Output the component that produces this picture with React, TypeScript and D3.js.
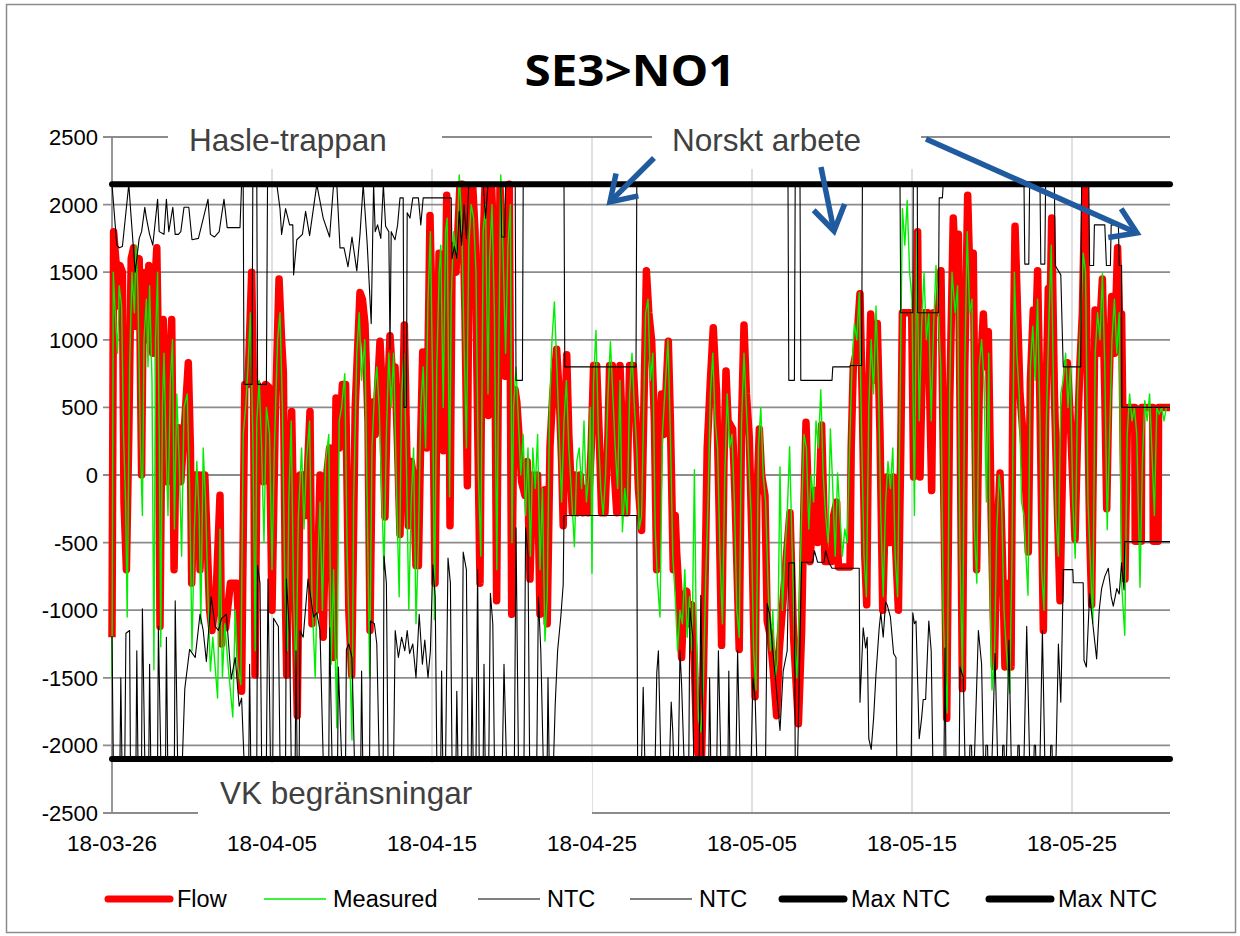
import React from "react";
import * as d3 from "d3";

type P = [number, number];

// x in days after 2018-03-26 00:00, y in MW
const xTickDays = [0, 10, 20, 30, 40, 50, 60];
const xTickLabels = ["18-03-26", "18-04-05", "18-04-15", "18-04-25", "18-05-05", "18-05-15", "18-05-25"];
const yTicks = [-2500, -2000, -1500, -1000, -500, 0, 500, 1000, 1500, 2000, 2500];
const dayDomain: P = [0, 66.125];

const flow: P[] = [
  [0, -1200], [0.1, 1800], [0.3, 1500], [0.4, 1250], [0.5, 1550], [0.65, 1500], [0.75, -200], [0.9, -700], [1.05, 300], [1.2, 1600], [1.35, 1680], [1.45, 1100], [1.55, 1550], [1.7, 1600], [1.85, 0], [1.95, 1300], [2.1, 1500], [2.2, 1000], [2.3, 1550], [2.45, 1150], [2.55, 900], [2.65, 1350], [2.8, 1680], [2.9, 900], [3.0, -1120], [3.1, 200], [3.2, 1150], [3.3, 800], [3.42, -50], [3.55, 400], [3.73, 1150], [3.88, -700], [4.0, 200], [4.15, 350], [4.3, -50], [4.5, 300], [4.77, 830], [4.9, 200], [4.98, -800], [5.1, -300], [5.2, 0], [5.35, -100], [5.45, 0], [5.5, -700], [5.65, 0], [5.8, 0], [5.95, -500], [6.1, -1000], [6.25, -1150], [6.5, -900], [6.75, -150], [6.85, -1250], [6.96, -1000], [7.1, -1130], [7.4, -800], [7.8, -800], [7.95, -1200], [8.1, -1600], [8.3, 670], [8.5, 670], [8.73, 1500], [8.85, 600], [8.94, -1480], [9.1, 670], [9.3, 600], [9.46, -50], [9.6, 670], [9.8, 650], [10.0, -1000], [10.2, 400], [10.44, 1450], [10.6, 1000], [10.71, 760], [10.85, -1000], [10.92, -1480], [11.1, 0], [11.23, 470], [11.4, -700], [11.58, -1780], [11.75, 0], [11.96, 0], [12.1, -300], [12.375, 470], [12.5, -1100], [12.6, -500], [12.8, -1000], [13.0, 0], [13.2, -1200], [13.42, 0], [13.6, 200], [13.83, -1350], [14.0, 570], [14.2, 200], [14.4, 670], [14.6, 670], [14.8, -1000], [14.98, -1480], [15.2, 500], [15.5, 1350], [15.65, 1300], [15.81, 1120], [16.0, 400], [16.125, -1150], [16.3, 540], [16.45, 300],
  [16.75, 990], [16.9, 600], [17.06, -310], [17.2, 500], [17.375, 1030], [17.55, 700], [17.69, 800], [17.85, 200], [18.0, -440], [18.15, 400], [18.27, 1110], [18.4, 300], [18.52, -375], [18.7, 100], [18.83, 0], [19.0, -670], [19.15, -670], [19.3, 300], [19.42, 910], [19.55, 600], [19.67, 200], [19.875, 1920], [20.0, 1200], [20.19, -800], [20.3, 500], [20.44, 1640], [20.6, 1000], [20.71, 180], [20.92, 2070], [21.05, 1200], [21.125, -375], [21.25, 1500], [21.375, 1700], [21.5, 1500], [21.75, 2150], [21.9, 2150], [22.06, 1200], [22.21, -80], [22.3, 1500], [22.375, 2130], [22.55, 2130], [22.69, 1800], [22.85, 400], [23.0, -800], [23.15, 1500], [23.31, 2130], [23.45, 1800], [23.52, 440], [23.65, 1800], [23.73, 2130], [23.9, 1500], [24.04, -930], [24.15, 800], [24.25, 2130], [24.4, 1800], [24.56, 730], [24.7, 1500], [24.83, 2150], [24.98, -1030], [25.1, 300], [25.19, 630], [25.3, 540], [25.45, 270], [25.6, -50], [25.81, -150], [25.95, 100], [26.125, -770], [26.3, 0], [26.44, -150], [26.6, 0], [26.75, -1030], [26.9, -300], [27.06, -110], [27.2, -1100], [27.375, 210], [27.55, 600], [27.79, 930], [27.95, 600], [28.1, 100], [28.2, -375], [28.3, 300], [28.42, 890], [28.55, 300], [28.77, -280], [28.9, 0], [29.05, -280], [29.25, 0], [29.45, -280], [29.6, -100], [29.77, -280], [29.95, 200], [30.1, 810], [30.29, 810], [30.45, 300], [30.6, -280], [30.81, -280], [31.0, 300], [31.1, 810], [31.27, 810], [31.4, 0], [31.55, -280], [31.75, 810], [31.9, 300], [32.0, -280], [32.17, -280], [32.35, 810], [32.58, 810], [32.75, 400], [32.9, -100], [33.1, -410],
  [33.4, 1510], [33.55, 1200], [33.73, 990], [33.9, 400], [34.04, -700], [34.2, 200], [34.35, 600], [34.5, 300], [34.77, 990], [34.9, 400], [35.08, -700], [35.2, -300], [35.29, -570], [35.45, -900], [35.6, -1350], [35.75, -900], [35.92, -860], [36.05, -1100], [36.23, -960], [36.4, -1400], [36.55, -2000], [36.65, -2080], [36.85, -2080], [36.96, -1500], [37.05, -900], [37.2, 200], [37.4, 700], [37.58, 1090], [37.7, 800], [37.79, 600], [37.95, -300], [38.1, -1260], [38.25, 100], [38.375, 770], [38.5, 400], [38.79, 340], [38.95, -200], [39.2, -1290], [39.35, 400], [39.5, 1110], [39.65, 600], [39.83, 280], [40.0, -500], [40.19, -1640], [40.3, -200], [40.46, 340], [40.6, 0], [40.81, -150], [40.95, -1080], [41.125, -1180], [41.3, -1400], [41.54, -1780], [41.7, -1300], [41.96, -900], [42.15, -600], [42.375, -280], [42.6, -1200], [42.9, -1840], [43.1, -1160], [43.25, -200], [43.375, 390], [43.5, -100], [43.625, -640], [43.8, -300], [43.94, -115], [44.1, -500], [44.35, 370], [44.5, -300], [44.56, -640], [44.98, -640], [45.1, -300], [45.29, -200], [45.4, -680], [46.125, -680], [46.2, 200], [46.33, 800], [46.5, 900], [46.75, 1340], [46.9, 500], [47.05, -600], [47.17, -960], [47.3, 600], [47.42, 1190], [47.6, 700], [47.83, 1120], [48.0, 300], [48.17, -1000], [48.3, -400], [48.42, -15], [48.6, -500], [48.83, -15], [49.0, -600], [49.15, -1000], [49.3, 200], [49.4, 1200], [49.98, 1200],
  [50.1, -15], [50.35, 1800], [50.5, -15], [50.71, 1200], [51.0, 1200], [51.23, -115], [51.35, 1200], [51.65, 1200], [51.81, 1510], [51.95, 200], [52.17, -1800], [52.35, 500], [52.58, 1900], [52.75, 1400], [52.9, 1780], [53.0, 500], [53.15, -1580], [53.3, 800], [53.48, 2070], [53.65, 1300], [53.83, 1640], [53.95, 200], [54.04, -700], [54.2, 600], [54.46, 1190], [54.6, 800], [54.77, 1060], [54.95, -300], [55.15, -1420], [55.3, -500], [55.5, 15], [55.65, -600], [55.81, -1420], [56.0, -800], [56.19, -1420], [56.3, 600], [56.44, 1840], [56.6, 1200], [56.75, 600], [57.0, 200], [57.27, -570], [57.4, 700], [57.58, 1220], [57.7, 900], [57.85, 1510], [58.0, 500], [58.21, -1150], [58.35, 400], [58.52, 1380], [58.6, 1000], [58.73, 1900], [58.9, 600], [59.1, -300], [59.25, -930], [59.45, 300], [59.71, 830], [59.9, 400], [60.19, -475], [60.35, 300], [60.5, 830], [60.65, 1200], [60.81, 2130], [60.95, 800], [61.1, -400], [61.23, -960], [61.35, 300], [61.44, 1220], [61.65, 900], [61.9, 1450], [62.05, 600], [62.17, -250], [62.3, 600], [62.48, 1320], [62.65, 900], [62.85, 1680], [63.0, 1000], [63.1, 1190], [63.2, 200], [63.31, -770], [63.45, 300], [63.52, 500], [63.92, 500], [63.95, -490], [64.33, -490], [64.36, 500], [65.05, 500], [65.08, -490], [65.38, -490], [65.41, 500], [66.125, 500],
];

const measured: P[] = [
  [0, -1500], [0.08, 1500], [0.2, 1200], [0.35, 900], [0.45, 1400], [0.6, 1250], [0.72, 300], [0.85, -200], [0.95, -1050], [1.1, 800], [1.25, 1500], [1.4, 1200], [1.5, 1700], [1.62, 1350], [1.78, 200], [1.9, -300], [2.0, 1000], [2.15, 1300], [2.25, 800], [2.35, 1400], [2.5, 700], [2.62, -1440], [2.72, 1000], [2.85, 1500], [2.95, 300], [3.05, -1270], [3.15, 500], [3.25, 900], [3.4, 100], [3.5, -300], [3.65, 700], [3.78, 1000], [3.9, -400], [4.05, 600], [4.2, 100], [4.35, -600], [4.5, 500], [4.7, 600], [4.85, -100], [5.0, -1300], [5.15, -400], [5.3, 100], [5.45, -300], [5.55, -1100], [5.7, 200], [5.85, -200], [6.0, -900], [6.15, -1450], [6.3, -1200], [6.6, -1650], [6.75, -400], [6.9, -1500], [7.05, -1100], [7.25, -1400], [7.55, -1790], [7.7, -1000], [7.85, -1400], [8.05, -1550], [8.2, 300], [8.35, 500], [8.5, 800], [8.65, 1200], [8.8, 300], [8.95, -1300], [9.05, 400], [9.2, 700], [9.35, 200], [9.5, -500], [9.65, 500], [9.85, 300], [10.0, -700], [10.15, 200], [10.35, 1000], [10.5, 1200], [10.65, 500], [10.8, -800], [10.95, -1300], [11.05, -200], [11.2, 400], [11.35, -900], [11.5, -1500], [11.65, -300], [11.85, 200], [12.0, -400], [12.15, 100], [12.35, 400], [12.5, -900], [12.7, -1500], [12.85, -700], [13.0, -200], [13.15, -1000], [13.35, 100], [13.55, 300], [13.7, -1400], [13.85, -700], [14.05, -1870], [14.2, 400], [14.35, 500], [14.55, 750], [14.7, -600], [14.85, -1300], [15.0, -1960], [15.1, -200], [15.3, 900], [15.45, 1200], [15.6, 700], [15.8, 1000], [15.95, -200], [16.1, -1490], [16.25, 200], [16.4, 600],
  [16.55, 800], [16.7, 500], [16.85, -100], [17.0, -700], [17.15, 300], [17.3, 900], [17.45, 500], [17.6, 900], [17.8, -200], [17.95, -900], [18.1, 600], [18.25, 900], [18.4, 100], [18.55, -1000], [18.7, -200], [18.85, 200], [19.0, -1100], [19.15, -500], [19.3, 500], [19.45, 800], [19.6, 200], [19.75, 1300], [19.9, 1800], [20.05, 600], [20.15, -1070], [20.3, 800], [20.45, 1500], [20.55, 1700], [20.7, 500], [20.85, 1800], [20.95, 1900], [21.1, -160], [21.2, 1300], [21.35, 1800], [21.55, 1600], [21.7, 2220], [21.85, 1900], [22.0, 1000], [22.15, 200], [22.3, 1700], [22.45, 2000], [22.6, 1900], [22.75, 1500], [22.9, 0], [23.05, -600], [23.2, 1800], [23.35, 2000], [23.5, 600], [23.6, 1600], [23.75, 2000], [23.9, 1200], [24.05, -700], [24.2, 1200], [24.3, 2220], [24.45, 1600], [24.6, 900], [24.75, 1700], [24.9, 2000], [25.0, -500], [25.1, 500], [25.25, 800], [25.4, 400], [25.55, 0], [25.7, 300], [25.85, -300], [26.0, 200], [26.15, -600], [26.3, 200], [26.45, -100], [26.6, 300], [26.75, -700], [26.9, -100], [27.06, -1230], [27.2, -900], [27.35, 500], [27.5, 1000], [27.65, 1280], [27.8, 800], [27.95, 300], [28.1, -200], [28.25, 400], [28.4, 700], [28.55, 200], [28.7, -100], [28.9, -530], [29.05, 100], [29.2, 200], [29.35, -100], [29.5, 400], [29.65, -200], [29.8, 0], [29.9, 500], [30.0, -727], [30.1, 700], [30.25, 1070], [30.4, 300], [30.55, -100], [30.7, -300], [30.85, 0], [31.0, 600], [31.15, 986], [31.3, 600], [31.45, 200], [31.6, -100], [31.75, 700], [31.9, -420], [32.05, -100], [32.2, -300], [32.35, 600], [32.5, 900], [32.65, 500], [32.8, 200], [32.95, -400], [33.1, -300], [33.25, 600], [33.35, 1200],
  [33.5, 1300], [33.65, 700], [33.8, 900], [33.95, -400], [34.1, -800], [34.25, -1050], [34.4, 300], [34.55, 600], [34.75, 1000], [34.9, 300], [35.05, -600], [35.2, -900], [35.35, -1300], [35.5, -1000], [35.65, -1100], [35.8, -700], [35.95, -1200], [36.1, -900], [36.25, -1300], [36.4, 40], [36.5, -1000], [36.65, -1800], [36.8, -1900], [36.95, -1600], [37.1, -800], [37.25, -200], [37.4, 600], [37.55, 900], [37.7, 400], [37.85, 200], [38.0, -600], [38.15, -1100], [38.3, 0], [38.45, 600], [38.6, 200], [38.75, 300], [38.9, -200], [39.05, -1000], [39.2, -1200], [39.35, 400], [39.5, 900], [39.65, 500], [39.8, 100], [39.95, -300], [40.1, -1300], [40.25, -1590], [40.4, 200], [40.55, 500], [40.7, 0], [40.85, -200], [41.0, -800], [41.15, -1300], [41.3, -1000], [41.45, -1500], [41.6, -1370], [41.75, 60], [41.9, -1000], [42.05, -600], [42.2, -300], [42.35, 210], [42.5, -500], [42.65, -1200], [42.8, -1500], [42.95, -1000], [43.1, -300], [43.25, 300], [43.4, 200], [43.55, -400], [43.7, 0], [43.85, -200], [44.0, 400], [44.15, 200], [44.3, 630], [44.45, 0], [44.6, -300], [44.75, -500], [44.9, 340], [45.05, -100], [45.2, -600], [45.35, 15], [45.5, -300], [45.65, -600], [45.8, -400], [45.95, -500], [46.1, 200], [46.25, 800], [46.4, 1120], [46.55, 1000], [46.7, 1350], [46.85, 300], [47.0, -600], [47.15, -900], [47.3, 500], [47.45, 1000], [47.6, 600], [47.75, 1250], [47.9, 700], [48.05, -300], [48.2, -900], [48.35, -200], [48.5, 100], [48.65, -100], [48.8, 200], [48.95, -600], [49.1, -900], [49.25, 500], [49.4, 1970], [49.55, 1700], [49.7, 2030], [49.85, 1500], [50.0, 1300],
  [50.15, -300], [50.3, 1800], [50.45, 400], [50.6, 1100], [50.75, 1500], [50.9, 1000], [51.05, 1200], [51.2, 400], [51.35, 1100], [51.5, 1550], [51.65, 1200], [51.8, 800], [51.95, -1000], [52.05, -1400], [52.2, -1760], [52.35, 600], [52.5, 1500], [52.7, 1200], [52.85, 1400], [53.0, -600], [53.15, -1500], [53.3, 800], [53.45, 1800], [53.6, 1200], [53.75, 1300], [53.9, -400], [54.05, -800], [54.2, 800], [54.35, 1000], [54.5, 700], [54.65, -200], [54.8, 900], [54.9, -1000], [55.0, -1590], [55.15, -1350], [55.3, -400], [55.45, 0], [55.6, -200], [55.75, -1000], [55.9, -1300], [56.1, -1615], [56.25, -600], [56.4, 1500], [56.55, 900], [56.7, 600], [56.85, -200], [57.0, -300], [57.25, -890], [57.4, 800], [57.55, 1100], [57.7, 700], [57.85, 1300], [58.0, 400], [58.1, -700], [58.25, -1000], [58.4, 400], [58.55, 1100], [58.7, 1700], [58.85, 600], [59.0, -300], [59.15, -600], [59.3, 600], [59.45, 700], [59.6, 900], [59.75, 500], [59.9, 800], [60.05, -200], [60.2, -615], [60.35, 600], [60.5, 1000], [60.7, 1640], [60.85, 1500], [61.0, -200], [61.3, -1095], [61.45, 900], [61.6, 1200], [61.75, 1000], [61.9, 1490], [62.05, 800], [62.2, -405], [62.35, 300], [62.5, 1000], [62.65, 1300], [62.8, 900], [62.95, 1200], [63.1, -800], [63.3, -1185], [63.45, 300], [63.6, 600], [63.75, 400], [63.9, 500], [64.05, 300], [64.25, -830], [64.4, 100], [64.55, 550], [64.7, 400], [64.85, 600], [65.0, 160], [65.15, -300], [65.3, 500], [65.45, 450], [65.6, 500], [65.75, 400], [65.9, 500], [66.125, 500],
];

const ntcUpper: P[] = [
  [0, 2150], [0.3, 1700], [0.45, 1680], [0.65, 1690], [1.05, 2150], [1.2, 1900], [1.45, 1500], [1.7, 1750], [1.85, 1800], [2.05, 1980], [2.15, 1900], [2.35, 1780], [2.55, 1700], [2.85, 2040], [2.95, 1800], [3.25, 1780], [3.4, 2040], [3.55, 1800], [3.8, 1980], [3.95, 1780], [4.15, 1780], [4.3, 1800], [4.5, 1980], [4.8, 1980], [5.0, 1740], [5.4, 1750], [6.0, 2040], [6.15, 1780], [6.4, 1760], [6.7, 1800], [7.0, 2040], [7.2, 1830], [8.0, 1830], [8.1, 2150], [8.2, 2150], [8.25, 670], [8.75, 670], [8.8, 2150], [9.05, 2150], [9.1, 670], [9.65, 670], [9.72, 2150], [10.3, 2150], [10.5, 1970], [10.6, 1780], [10.85, 1970], [11.1, 1850], [11.3, 1850], [11.35, 1480], [11.55, 1740], [11.9, 1780], [12.1, 1950], [12.35, 1770], [12.8, 2150], [13.2, 1900], [13.6, 1760], [13.85, 2150], [14.05, 2150], [14.25, 1680], [14.5, 1680], [14.75, 1540], [15.0, 1760], [15.3, 1510], [15.5, 1780], [15.7, 2150], [15.95, 1710], [16.2, 1120], [16.35, 2150],
  [16.45, 1800], [16.6, 1850], [16.8, 1750], [16.96, 2150], [17.1, 1840], [17.3, 1800], [17.375, 930], [17.45, 1800], [17.69, 1740], [17.85, 1850], [18.0, 2050], [18.2, 2050], [18.25, 500], [18.4, 500], [18.45, 1940], [18.625, 1900], [18.8, 2050], [19.15, 2050], [19.3, 1850], [19.45, 2050], [21.2, 2050], [21.25, 1600], [21.4, 1690], [21.55, 1600], [21.7, 1950], [21.85, 1700], [22.0, 2000], [22.15, 1750], [22.3, 2150], [23.2, 2150], [23.35, 1900], [23.5, 2150], [24.3, 2150], [24.35, 1760], [24.55, 1760], [24.6, 2150], [25.2, 2150], [25.25, 700], [25.65, 700], [25.7, 2150], [28.25, 2150], [28.3, 800], [32.75, 800], [32.8, 2150],
  [42.25, 2150], [42.3, 700], [42.65, 700], [42.7, 2150], [43.0, 2150], [43.05, 700], [45.0, 700], [45.05, 800], [46.1, 800], [46.15, 810], [46.85, 810], [46.9, 2150], [49.25, 2150], [49.3, 1200], [50.05, 1200], [50.08, 2150], [50.33, 2150], [50.36, 1200], [51.65, 1200], [51.7, 2050], [51.9, 2050], [51.95, 2150],
  [57.0, 2150], [57.05, 1560], [57.3, 1560], [57.35, 2150], [58.0, 2150], [58.05, 1560], [58.3, 1560], [58.35, 2150], [58.9, 2150], [58.95, 1550], [59.3, 1480], [59.45, 800], [60.55, 800], [60.6, 2150], [61.05, 2150], [61.1, 1550], [61.35, 1550], [61.4, 1850], [62.05, 1850], [62.15, 1550], [62.4, 1550], [62.45, 1850], [62.9, 1850], [62.95, 1550], [63.1, 1550], [63.12, 500], [66.125, 500],
];

const ntcLower: P[] = [
  [0, -1190], [0.08, -2100], [0.5, -2100], [0.55, -1500], [0.62, -2100], [0.8, -2100], [0.87, -1170], [1.1, -1150], [1.15, -2100], [1.5, -2100], [1.55, -1300], [1.62, -2100], [1.85, -2100], [1.9, -990], [2.05, -2100], [2.3, -2100], [2.35, -1400], [2.42, -2100], [2.85, -2100], [2.9, -1120], [3.05, -2100], [3.35, -2100], [3.4, -1200], [3.48, -2100], [3.9, -2100], [3.95, -930], [4.1, -2100], [4.4, -2100], [4.55, -1580], [4.85, -1290], [5.2, -1350], [5.5, -1030], [5.7, -1150], [5.9, -1380], [6.2, -900], [6.45, -1120], [6.65, -1150], [6.85, -1060], [7.15, -1030], [7.45, -1510], [7.7, -1350], [7.95, -1710], [8.1, -1650], [8.25, -2100], [8.55, -2100], [8.6, -1400], [8.67, -2100], [9.05, -2100], [9.1, -670], [9.25, -800], [9.35, -2100], [9.65, -2100], [9.75, -770], [9.9, -2100], [10.05, -2100], [10.1, -1060], [10.4, -1120], [10.5, -2100], [10.85, -2100], [10.9, -770], [11.1, -1180], [11.2, -2100], [11.45, -2100], [11.5, -1300], [11.57, -2100], [11.7, -2100], [11.75, -1150], [11.95, -1200], [12.25, -770], [12.6, -1050], [12.8, -1020], [13.0, -1150], [13.2, -2100], [13.55, -2100], [13.6, -1130], [13.75, -2100], [14.1, -2100], [14.15, -1420], [14.35, -2100], [14.6, -2100], [14.65, -1290], [14.8, -1250], [15.0, -1350], [15.15, -2100], [15.55, -2100], [15.6, -1450], [15.67, -2100], [16.1, -2100], [16.15, -1080], [16.4, -1100],
  [16.55, -1250], [16.7, -2100], [16.95, -2100], [17.0, -600], [17.15, -800], [17.25, -2100], [17.6, -2100], [17.7, -1150], [17.9, -1350], [18.1, -1200], [18.3, -1300], [18.45, -1150], [18.6, -1320], [18.8, -1250], [19.0, -1500], [19.2, -1030], [19.4, -1400], [19.55, -1220], [19.75, -1500], [19.9, -1300], [20.05, -665], [20.2, -900], [20.3, -2100], [20.55, -2100], [20.6, -1450], [20.67, -2100], [20.85, -2100], [21.0, -615], [21.15, -800], [21.25, -2100], [21.5, -2100], [21.55, -1600], [21.62, -2100], [21.85, -2100], [21.95, -570], [22.15, -700], [22.25, -2100], [22.45, -2100], [22.5, -1500], [22.57, -2100], [22.75, -2100], [22.85, -700], [22.95, -2100], [23.2, -2100], [23.25, -1400], [23.32, -2100], [23.55, -2100], [23.65, -875], [23.8, -1100], [23.9, -2100], [24.4, -2100], [24.5, -1400], [24.65, -2100], [25.15, -2100], [25.25, -390], [25.4, -2100], [25.75, -2100], [25.85, -390], [26.0, -600], [26.1, -2100], [26.55, -2100], [26.65, -900], [26.8, -1300], [26.95, -2100], [27.2, -2100], [27.25, -1500], [27.32, -2100], [27.6, -2100], [27.7, -1700], [27.85, -1300], [28.05, -1050], [28.2, -810], [28.25, -300], [32.8, -300], [32.85, -2100], [33.1, -2100], [33.2, -1570], [33.3, -2100], [33.95, -2100], [34.05, -1460], [34.15, -1300], [34.3, -2100], [34.85, -2100], [34.95, -1680], [35.05, -1900], [35.1, -2100],
  [35.4, -2100], [35.5, -1300], [35.6, -1550], [35.75, -2100], [36.05, -2100], [36.12, -985], [36.3, -1200], [36.35, -2100], [36.7, -2100], [36.8, -890], [36.95, -2100], [37.3, -2100], [37.35, -1500], [37.42, -2100], [37.8, -2100], [37.9, -1300], [38.05, -2100], [38.5, -2100], [38.55, -1450], [38.62, -2100], [39.0, -2100], [39.1, -1300], [39.25, -2100], [39.95, -2100], [40.06, -1500], [40.2, -1660], [40.3, -2100], [40.85, -2100], [40.95, -950], [41.1, -1030], [41.3, -1300], [41.5, -1550], [41.75, -1890], [41.95, -1450], [42.2, -1300], [42.3, -650], [42.65, -650], [42.7, -2100], [42.85, -2100], [43.0, -1240], [43.1, -645], [43.8, -645], [43.9, -560], [44.1, -645], [44.5, -645], [44.6, -560], [44.8, -645], [45.0, -690], [46.7, -690],
  [46.75, -1680], [46.95, -1130], [47.1, -1280], [47.2, -1200], [47.3, -1950], [47.45, -2030], [47.6, -1800], [47.75, -1470], [47.95, -1130], [48.05, -1020], [48.2, -1200], [48.35, -940], [48.45, -960], [48.65, -1050], [48.85, -1320], [49.0, -1350], [49.05, -2100], [49.95, -2100], [50.05, -1020], [50.15, -1100], [50.25, -1080], [50.45, -1950], [50.6, -1800], [50.7, -1660], [50.85, -1660], [51.05, -1080], [51.2, -1300], [51.3, -2100], [52.0, -2100], [52.06, -1280], [52.12, -2100],
  [52.95, -2100], [53.0, -1420], [53.21, -1500], [53.31, -2100], [53.6, -2100], [53.62, -2000], [53.72, -2000], [53.74, -2100], [53.9, -2100], [54.15, -1150], [54.35, -1400], [54.46, -2100], [54.6, -2100], [54.62, -2000], [54.72, -2000], [54.74, -2100], [55.0, -2100], [55.19, -1320], [55.35, -2100], [55.65, -2100], [55.67, -2000], [55.75, -2000], [55.77, -2100], [55.9, -2100], [56.06, -1220], [56.2, -2100], [56.6, -2100], [56.62, -2000], [56.7, -2000], [56.72, -2100], [57.0, -2100], [57.17, -1120], [57.35, -2100], [57.62, -2100], [57.64, -2000], [57.72, -2000], [57.74, -2100], [58.0, -2100], [58.15, -1150], [58.3, -2100], [58.65, -2100], [58.67, -2000], [58.75, -2000], [58.77, -2100], [59.0, -2100], [59.15, -1250], [59.3, -1680], [59.35, -1400], [59.46, -700], [60.05, -700], [60.08, -797], [60.7, -797], [60.75, -1370], [60.9, -1420], [61.1, -880], [61.3, -1100], [61.54, -1360], [61.7, -1000], [61.85, -840], [62.05, -750], [62.27, -690], [62.45, -900], [62.58, -970], [62.8, -840], [62.95, -880], [63.1, -650], [63.25, -850], [63.3, -493], [66.125, -493],
];

const maxNtcUpper: P[] = [[0, 2150], [66.125, 2150]];
const maxNtcLower: P[] = [[0, -2100], [66.125, -2100]];

// annotation arrows in data coordinates [from, to]
const arrows: [P, P][] = [
  [[33.875, 2345], [31.125, 2020]],
  [[44.31, 2278], [45.125, 1805]],
  [[50.875, 2485], [64.06, 1790]],
];

const legendItems = [
  { label: "Flow", color: "#ff0000", width: 7, x: 108 },
  { label: "Measured", color: "#00ee00", width: 1.6, x: 264 },
  { label: "NTC", color: "#000000", width: 1.2, x: 478 },
  { label: "NTC", color: "#000000", width: 1.2, x: 630 },
  { label: "Max NTC", color: "#000000", width: 7, x: 782 },
  { label: "Max NTC", color: "#000000", width: 7, x: 989 },
];

const FONT = "'Liberation Sans', Arial, sans-serif";

export default function App() {
  const W = 1240, H = 936;
  const left = 112, right = 1170, top = 137, bottom = 813;
  const x = d3.scaleLinear().domain(dayDomain).range([left, right]);
  const y = d3.scaleLinear().domain([-2500, 2500]).range([bottom, top]);
  const line = d3.line<P>().x((d) => x(d[0])).y((d) => y(d[1]));

  const arrowPaths = arrows.map(([a, b]) => {
    const x0 = x(a[0]), y0 = y(a[1]), x1 = x(b[0]), y1 = y(b[1]);
    const ang = Math.atan2(y0 - y1, x0 - x1);
    const L = 29, spread = (33 * Math.PI) / 180;
    const h1 = [x1 + L * Math.cos(ang + spread), y1 + L * Math.sin(ang + spread)];
    const h2 = [x1 + L * Math.cos(ang - spread), y1 + L * Math.sin(ang - spread)];
    return { shaft: `M${x0},${y0}L${x1},${y1}`, head: `M${h1[0]},${h1[1]}L${x1},${y1}L${h2[0]},${h2[1]}` };
  });

  return (
    <svg width={W} height={H} style={{ position: "absolute", left: 0, top: 0, background: "#fff" }} fontFamily={FONT}>
      <rect x={0} y={0} width={W} height={H} fill="#fff" />
      <rect x={6.5} y={4.5} width={1229} height={928} fill="none" stroke="#8c8c8c" strokeWidth={1.5} />
      <text x={630} y={86} textAnchor="middle" fontFamily="'Open Sans', sans-serif" fontWeight="bold" fontSize={43} textLength={211} lengthAdjust="spacingAndGlyphs">SE3&gt;NO1</text>

      <defs>
        <clipPath id="plotClip">
          <rect x={left - 4} y={top - 4} width={right - left + 8} height={bottom - top + 8} />
        </clipPath>
      </defs>

      {/* vertical gridlines */}
      {xTickDays.slice(1).map((d) => (
        <line key={"v" + d} x1={x(d)} x2={x(d)} y1={top} y2={bottom} stroke="#d6d6d6" strokeWidth={1.5} />
      ))}
      {/* horizontal gridlines */}
      {yTicks.map((v) => (
        <line key={"h" + v} x1={left - 9} x2={right} y1={y(v)} y2={y(v)} stroke="#8c8c8c" strokeWidth={1.8} />
      ))}
      <line x1={left} x2={left} y1={top} y2={bottom} stroke="#8c8c8c" strokeWidth={1.8} />

      {/* annotation boxes */}
      <rect x={168} y={112} width={274} height={57} fill="#fff" />
      <rect x={652} y={112} width={269} height={57} fill="#fff" />
      <rect x={198} y={763} width={394} height={60} fill="#fff" />
      <text x={189} y={151} fontSize={31.5} fill="#404040">Hasle-trappan</text>
      <text x={672} y={151} fontSize={31.5} fill="#404040">Norskt arbete</text>
      <text x={220} y={804} fontSize={31.5} fill="#404040">VK begränsningar</text>

      <g clipPath="url(#plotClip)" fill="none" strokeLinejoin="round">
        <path d={line(flow) || ""} stroke="#ff0000" strokeWidth={7.5} />
        <path d={line(measured) || ""} stroke="#00ee00" strokeWidth={1.4} />
        <path d={line(ntcUpper) || ""} stroke="#000" strokeWidth={1.1} />
        <path d={line(ntcLower) || ""} stroke="#000" strokeWidth={1.1} />
      </g>
      <path d={line(maxNtcUpper) || ""} stroke="#000" strokeWidth={6} strokeLinecap="round" fill="none" />
      <path d={line(maxNtcLower) || ""} stroke="#000" strokeWidth={6} strokeLinecap="round" fill="none" />

      {/* arrows */}
      {arrowPaths.map((a, i) => (
        <g key={"a" + i} stroke="#1f5b9e" strokeWidth={5.5} fill="none" strokeLinecap="butt" strokeLinejoin="miter">
          <path d={a.shaft} />
          <path d={a.head} />
        </g>
      ))}

      {/* y tick labels */}
      {yTicks.map((v) => (
        <text key={"yl" + v} x={98} y={y(v)} dy="0.36em" textAnchor="end" fontSize={22}>{v}</text>
      ))}
      {/* x tick labels */}
      {xTickDays.map((d, i) => (
        <text key={"xl" + d} x={x(d)} y={851} textAnchor="middle" fontSize={22.5}>{xTickLabels[i]}</text>
      ))}

      {/* legend */}
      {legendItems.map((it, i) => (
        <g key={"lg" + i}>
          <line x1={it.x} x2={it.x + 62} y1={899} y2={899} stroke={it.color} strokeWidth={it.width} strokeLinecap={it.width > 3 ? "round" : "butt"} />
          <text x={it.x + 69} y={907} fontSize={23.5}>{it.label}</text>
        </g>
      ))}
    </svg>
  );
}
